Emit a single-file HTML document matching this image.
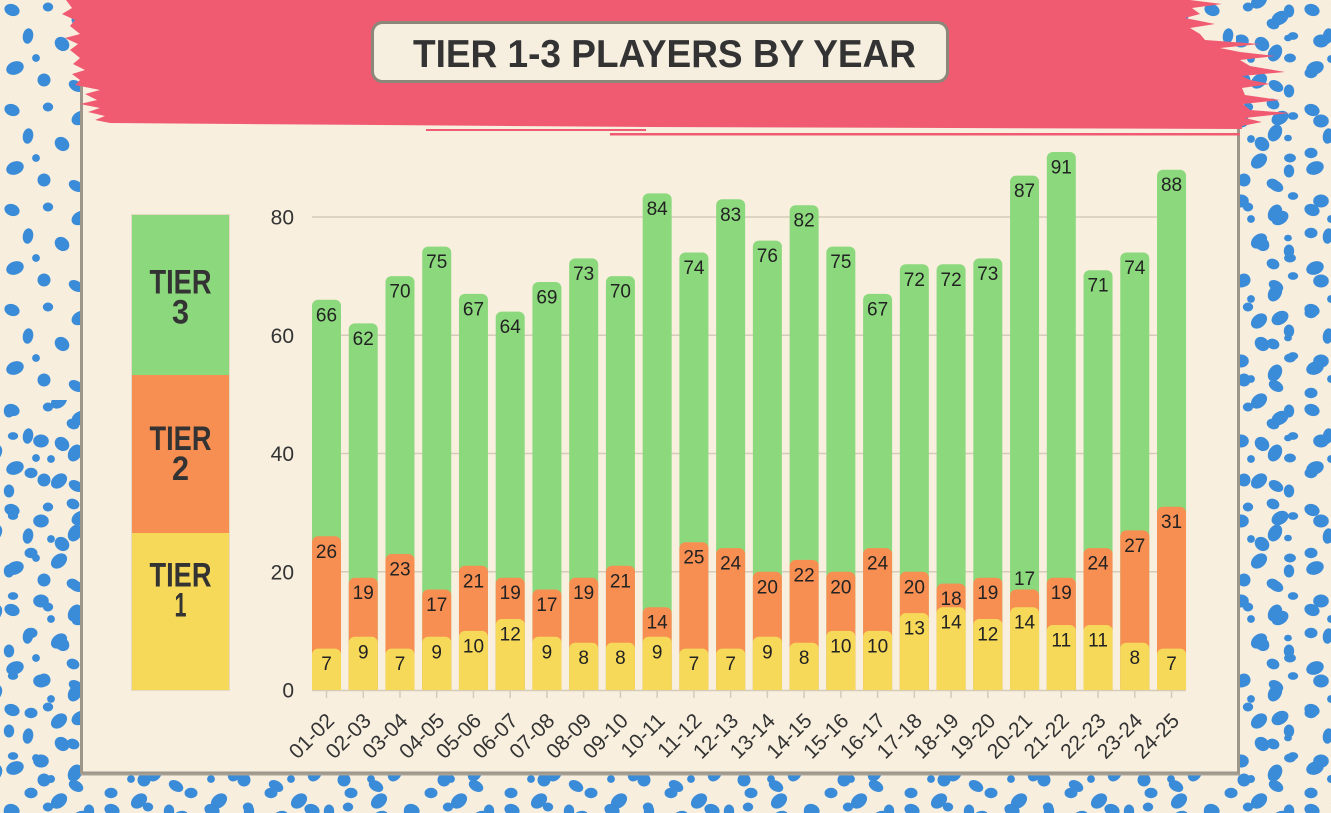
<!DOCTYPE html>
<html>
<head>
<meta charset="utf-8">
<style>
html,body{margin:0;padding:0;background:#f8eedd;}
svg{display:block;}
.lbl{font-family:"Liberation Sans",sans-serif;font-size:19px;fill:#222;text-anchor:middle;}
.yl{font-family:"Liberation Sans",sans-serif;font-size:21px;fill:#333;text-anchor:end;}
.xl{font-family:"Liberation Sans",sans-serif;font-size:21px;fill:#333;text-anchor:end;}
.lg{font-family:"Liberation Sans",sans-serif;font-weight:bold;font-size:34px;fill:#333;text-anchor:middle;}
</style>
</head>
<body>
<svg width="1331" height="813" viewBox="0 0 1331 813" xmlns="http://www.w3.org/2000/svg">
<defs>
  <pattern id="spA" width="100" height="100" patternUnits="userSpaceOnUse">
    <g fill="#3a8bd8">
      <ellipse cx="12" cy="10" rx="7.8" ry="5.9" transform="rotate(20 12 10)"/>
      <ellipse cx="48" cy="7" rx="5.2" ry="4.5"/>
      <ellipse cx="80" cy="18" rx="9" ry="6.5" transform="rotate(-30 80 18)"/>
      <ellipse cx="28" cy="36" rx="5.2" ry="7.8" transform="rotate(10 28 36)"/>
      <ellipse cx="62" cy="44" rx="7.8" ry="6.5" transform="rotate(40 62 44)"/>
      <ellipse cx="90" cy="58" rx="5.9" ry="4.5"/>
      <ellipse cx="15" cy="68" rx="9" ry="6.5" transform="rotate(-20 15 68)"/>
      <ellipse cx="44" cy="80" rx="6.5" ry="6.5"/>
      <ellipse cx="76" cy="86" rx="7.8" ry="5.2" transform="rotate(30 76 86)"/>
      <ellipse cx="36" cy="58" rx="3.9" ry="3.9"/>
      <ellipse cx="88" cy="38" rx="3.9" ry="3.3"/>
    </g>
  </pattern>
  <pattern id="spB" width="80" height="80" patternUnits="userSpaceOnUse" x="23" y="31">
    <g fill="#3a8bd8">
      <ellipse cx="18" cy="10" rx="7.8" ry="6.5"/>
      <ellipse cx="52" cy="22" rx="6.5" ry="9" transform="rotate(30 52 22)"/>
      <ellipse cx="8" cy="42" rx="6.5" ry="5.2"/>
      <ellipse cx="36" cy="50" rx="9" ry="6.5" transform="rotate(-40 36 50)"/>
      <ellipse cx="66" cy="60" rx="5.2" ry="6.5"/>
      <ellipse cx="28" cy="28" rx="3.9" ry="3.9"/>
      <ellipse cx="70" cy="5" rx="5.2" ry="3.9"/>
      <ellipse cx="50" cy="73" rx="6.5" ry="5.2" transform="rotate(20 50 73)"/>
    </g>
  </pattern>
  <clipPath id="base"><rect x="0" y="0" width="1331" height="690"/></clipPath>
</defs>

<!-- background -->
<rect x="0" y="0" width="1331" height="813" fill="#f8eedd"/>
<rect x="0" y="0" width="1331" height="813" fill="url(#spA)"/>
<rect x="0" y="400" width="90" height="413" fill="url(#spB)"/>
<rect x="0" y="765" width="1331" height="48" fill="url(#spB)"/>
<rect x="1236" y="0" width="95" height="813" fill="url(#spB)"/>

<!-- panel -->
<rect x="81.5" y="85" width="1157" height="688" fill="#f8efdf" stroke="#9d978b" stroke-width="3"/>
<line x1="81" y1="774.5" x2="1240" y2="774.5" stroke="#a7a194" stroke-width="2"/>

<!-- red brush -->
<path fill="#f05b72" d="M66,0 L1190,0 L1222,4 L1192,8 L1200,14 L1185,18 L1215,24 L1190,28 L1200,34 L1205,40 L1260,44 L1220,48 L1240,52 L1275,56 L1240,60 L1250,66 L1285,72 L1242,76 L1250,80 L1270,84 L1242,88 L1245,95 L1280,100 L1243,104 L1250,110 L1290,113 L1245,118 L1262,122 L1242,126 L1242,129 L650,127 L110,123 L95,120 L105,116 L88,112 L100,108 L80,104 L97,100 L85,94 L100,90 L75,85 L80,80 L72,74 L85,70 L73,64 L80,58 L70,50 L78,44 L65,38 L80,34 L70,26 L75,20 L62,14 L72,8 Z"/>
<rect x="426" y="129" width="220" height="2" fill="#f05b72"/>
<rect x="610" y="133" width="630" height="2.5" fill="#f05b72"/>

<!-- title box -->
<rect x="372.5" y="22.5" width="575" height="59" rx="10" ry="10" fill="#f6efdf" stroke="#8c877b" stroke-width="3"/>
<text x="664.5" y="67" font-family="Liberation Sans, sans-serif" font-weight="bold" font-size="38.5" fill="#333" text-anchor="middle" textLength="503" lengthAdjust="spacingAndGlyphs">TIER 1-3 PLAYERS BY YEAR</text>

<!-- legend -->
<rect x="132" y="215" width="97" height="160" fill="#8cd97d"/>
<rect x="132" y="375" width="97" height="158" fill="#f78f52"/>
<rect x="132" y="533" width="97" height="157" fill="#f7d95a"/>
<rect x="131.5" y="214.5" width="98" height="476" fill="none" stroke="#e4d9c2" stroke-width="1"/>
<text class="lg" x="180.5" y="293.3" textLength="62" lengthAdjust="spacingAndGlyphs">TIER</text>
<text class="lg" x="180.5" y="323.3" textLength="17" lengthAdjust="spacingAndGlyphs">3</text>
<text class="lg" x="180.5" y="450" textLength="62" lengthAdjust="spacingAndGlyphs">TIER</text>
<text class="lg" x="180.5" y="480" textLength="17" lengthAdjust="spacingAndGlyphs">2</text>
<text class="lg" x="180.5" y="586.7" textLength="62" lengthAdjust="spacingAndGlyphs">TIER</text>
<text class="lg" x="180.5" y="616.7" textLength="12" lengthAdjust="spacingAndGlyphs">1</text>

<!-- gridlines -->
<g stroke="#d4cbb9" stroke-width="1.5">
  <line x1="312" y1="217" x2="1186" y2="217"/>
  <line x1="312" y1="335.25" x2="1186" y2="335.25"/>
  <line x1="312" y1="453.5" x2="1186" y2="453.5"/>
  <line x1="312" y1="571.75" x2="1186" y2="571.75"/>
  <line x1="312" y1="690.5" x2="1186" y2="690.5"/>
</g>
<!-- ticks -->
<g stroke="#d4cbb9" stroke-width="1.5">
  <line x1="326.5" y1="690" x2="326.5" y2="698"/>
  <line x1="363.24" y1="690" x2="363.24" y2="698"/>
  <line x1="399.98" y1="690" x2="399.98" y2="698"/>
  <line x1="436.72" y1="690" x2="436.72" y2="698"/>
  <line x1="473.46" y1="690" x2="473.46" y2="698"/>
  <line x1="510.2" y1="690" x2="510.2" y2="698"/>
  <line x1="546.94" y1="690" x2="546.94" y2="698"/>
  <line x1="583.68" y1="690" x2="583.68" y2="698"/>
  <line x1="620.42" y1="690" x2="620.42" y2="698"/>
  <line x1="657.16" y1="690" x2="657.16" y2="698"/>
  <line x1="693.9" y1="690" x2="693.9" y2="698"/>
  <line x1="730.64" y1="690" x2="730.64" y2="698"/>
  <line x1="767.38" y1="690" x2="767.38" y2="698"/>
  <line x1="804.12" y1="690" x2="804.12" y2="698"/>
  <line x1="840.86" y1="690" x2="840.86" y2="698"/>
  <line x1="877.6" y1="690" x2="877.6" y2="698"/>
  <line x1="914.34" y1="690" x2="914.34" y2="698"/>
  <line x1="951.08" y1="690" x2="951.08" y2="698"/>
  <line x1="987.82" y1="690" x2="987.82" y2="698"/>
  <line x1="1024.56" y1="690" x2="1024.56" y2="698"/>
  <line x1="1061.3" y1="690" x2="1061.3" y2="698"/>
  <line x1="1098.04" y1="690" x2="1098.04" y2="698"/>
  <line x1="1134.78" y1="690" x2="1134.78" y2="698"/>
  <line x1="1171.52" y1="690" x2="1171.52" y2="698"/>
</g>

<!-- y labels -->
<text class="yl" x="294" y="224.5">80</text>
<text class="yl" x="294" y="342.75">60</text>
<text class="yl" x="294" y="461">40</text>
<text class="yl" x="294" y="579.25">20</text>
<text class="yl" x="294" y="697.5">0</text>

<!-- bars -->
<g clip-path="url(#base)">
  <g fill="#8cd97d">
    <rect x="312" y="299.8" width="29" height="420" rx="6"/>
    <rect x="348.74" y="323.4" width="29" height="420" rx="6"/>
    <rect x="385.48" y="276.1" width="29" height="440" rx="6"/>
    <rect x="422.22" y="246.6" width="29" height="470" rx="6"/>
    <rect x="458.96" y="293.9" width="29" height="420" rx="6"/>
    <rect x="495.70" y="311.6" width="29" height="420" rx="6"/>
    <rect x="532.44" y="282.0" width="29" height="440" rx="6"/>
    <rect x="569.18" y="258.4" width="29" height="460" rx="6"/>
    <rect x="605.92" y="276.1" width="29" height="440" rx="6"/>
    <rect x="642.66" y="193.35" width="29" height="520" rx="6"/>
    <rect x="679.40" y="252.5" width="29" height="460" rx="6"/>
    <rect x="716.14" y="199.3" width="29" height="520" rx="6"/>
    <rect x="752.88" y="240.65" width="29" height="470" rx="6"/>
    <rect x="789.62" y="205.2" width="29" height="520" rx="6"/>
    <rect x="826.36" y="246.6" width="29" height="470" rx="6"/>
    <rect x="863.10" y="293.9" width="29" height="420" rx="6"/>
    <rect x="899.84" y="264.3" width="29" height="460" rx="6"/>
    <rect x="936.58" y="264.3" width="29" height="460" rx="6"/>
    <rect x="973.32" y="258.4" width="29" height="460" rx="6"/>
    <rect x="1010.06" y="175.6" width="29" height="540" rx="6"/>
    <rect x="1046.80" y="152.0" width="29" height="560" rx="6"/>
    <rect x="1083.54" y="270.2" width="29" height="440" rx="6"/>
    <rect x="1120.28" y="252.5" width="29" height="460" rx="6"/>
    <rect x="1157.02" y="169.7" width="29" height="540" rx="6"/>
  </g>
  <g fill="#f78f52">
    <rect x="312" y="536.3" width="29" height="180" rx="6"/>
    <rect x="348.74" y="577.7" width="29" height="140" rx="6"/>
    <rect x="385.48" y="554.0" width="29" height="160" rx="6"/>
    <rect x="422.22" y="589.5" width="29" height="120" rx="6"/>
    <rect x="458.96" y="565.8" width="29" height="140" rx="6"/>
    <rect x="495.70" y="577.7" width="29" height="140" rx="6"/>
    <rect x="532.44" y="589.5" width="29" height="120" rx="6"/>
    <rect x="569.18" y="577.7" width="29" height="140" rx="6"/>
    <rect x="605.92" y="565.8" width="29" height="140" rx="6"/>
    <rect x="642.66" y="607.2" width="29" height="100" rx="6"/>
    <rect x="679.40" y="542.2" width="29" height="160" rx="6"/>
    <rect x="716.14" y="548.1" width="29" height="160" rx="6"/>
    <rect x="752.88" y="571.75" width="29" height="140" rx="6"/>
    <rect x="789.62" y="559.9" width="29" height="160" rx="6"/>
    <rect x="826.36" y="571.75" width="29" height="140" rx="6"/>
    <rect x="863.10" y="548.1" width="29" height="160" rx="6"/>
    <rect x="899.84" y="571.75" width="29" height="140" rx="6"/>
    <rect x="936.58" y="583.6" width="29" height="120" rx="6"/>
    <rect x="973.32" y="577.7" width="29" height="140" rx="6"/>
    <rect x="1010.06" y="589.5" width="29" height="120" rx="6"/>
    <rect x="1046.80" y="577.7" width="29" height="140" rx="6"/>
    <rect x="1083.54" y="548.1" width="29" height="160" rx="6"/>
    <rect x="1120.28" y="530.4" width="29" height="180" rx="6"/>
    <rect x="1157.02" y="506.7" width="29" height="200" rx="6"/>
  </g>
  <g fill="#f7d95a">
    <rect x="312" y="648.6" width="29" height="60" rx="6"/>
    <rect x="348.74" y="636.8" width="29" height="70" rx="6"/>
    <rect x="385.48" y="648.6" width="29" height="60" rx="6"/>
    <rect x="422.22" y="636.8" width="29" height="70" rx="6"/>
    <rect x="458.96" y="630.9" width="29" height="80" rx="6"/>
    <rect x="495.70" y="619.05" width="29" height="90" rx="6"/>
    <rect x="532.44" y="636.8" width="29" height="70" rx="6"/>
    <rect x="569.18" y="642.7" width="29" height="70" rx="6"/>
    <rect x="605.92" y="642.7" width="29" height="70" rx="6"/>
    <rect x="642.66" y="636.8" width="29" height="70" rx="6"/>
    <rect x="679.40" y="648.6" width="29" height="60" rx="6"/>
    <rect x="716.14" y="648.6" width="29" height="60" rx="6"/>
    <rect x="752.88" y="636.8" width="29" height="70" rx="6"/>
    <rect x="789.62" y="642.7" width="29" height="70" rx="6"/>
    <rect x="826.36" y="630.9" width="29" height="80" rx="6"/>
    <rect x="863.10" y="630.9" width="29" height="80" rx="6"/>
    <rect x="899.84" y="613.1" width="29" height="90" rx="6"/>
    <rect x="936.58" y="607.2" width="29" height="100" rx="6"/>
    <rect x="973.32" y="619.05" width="29" height="90" rx="6"/>
    <rect x="1010.06" y="607.2" width="29" height="100" rx="6"/>
    <rect x="1046.80" y="625.0" width="29" height="80" rx="6"/>
    <rect x="1083.54" y="625.0" width="29" height="80" rx="6"/>
    <rect x="1120.28" y="642.7" width="29" height="70" rx="6"/>
    <rect x="1157.02" y="648.6" width="29" height="60" rx="6"/>
  </g>
</g>

<!-- bar labels: green -->
<text class="lbl" x="326.5" y="321.3">66</text>
<text class="lbl" x="363.24" y="344.9">62</text>
<text class="lbl" x="399.98" y="297.6">70</text>
<text class="lbl" x="436.72" y="268.1">75</text>
<text class="lbl" x="473.46" y="315.4">67</text>
<text class="lbl" x="510.2" y="333.1">64</text>
<text class="lbl" x="546.94" y="303.5">69</text>
<text class="lbl" x="583.68" y="279.9">73</text>
<text class="lbl" x="620.42" y="297.6">70</text>
<text class="lbl" x="657.16" y="214.85">84</text>
<text class="lbl" x="693.9" y="274">74</text>
<text class="lbl" x="730.64" y="220.8">83</text>
<text class="lbl" x="767.38" y="262.15">76</text>
<text class="lbl" x="804.12" y="226.7">82</text>
<text class="lbl" x="840.86" y="268.1">75</text>
<text class="lbl" x="877.6" y="315.4">67</text>
<text class="lbl" x="914.34" y="285.8">72</text>
<text class="lbl" x="951.08" y="285.8">72</text>
<text class="lbl" x="987.82" y="279.9">73</text>
<text class="lbl" x="1024.56" y="197.1">87</text>
<text class="lbl" x="1061.3" y="173.5">91</text>
<text class="lbl" x="1098.04" y="291.7">71</text>
<text class="lbl" x="1134.78" y="274">74</text>
<text class="lbl" x="1171.52" y="191.2">88</text>

<!-- bar labels: orange -->
<text class="lbl" x="326.5" y="557.8">26</text>
<text class="lbl" x="363.24" y="599.2">19</text>
<text class="lbl" x="399.98" y="575.5">23</text>
<text class="lbl" x="436.72" y="611">17</text>
<text class="lbl" x="473.46" y="587.3">21</text>
<text class="lbl" x="510.2" y="599.2">19</text>
<text class="lbl" x="546.94" y="611">17</text>
<text class="lbl" x="583.68" y="599.2">19</text>
<text class="lbl" x="620.42" y="587.3">21</text>
<text class="lbl" x="657.16" y="628.7">14</text>
<text class="lbl" x="693.9" y="563.7">25</text>
<text class="lbl" x="730.64" y="569.6">24</text>
<text class="lbl" x="767.38" y="593.25">20</text>
<text class="lbl" x="804.12" y="581.4">22</text>
<text class="lbl" x="840.86" y="593.25">20</text>
<text class="lbl" x="877.6" y="569.6">24</text>
<text class="lbl" x="914.34" y="593.25">20</text>
<text class="lbl" x="951.08" y="605.1">18</text>
<text class="lbl" x="987.82" y="599.2">19</text>
<text class="lbl" x="1024.56" y="585">17</text>
<text class="lbl" x="1061.3" y="599.2">19</text>
<text class="lbl" x="1098.04" y="569.6">24</text>
<text class="lbl" x="1134.78" y="551.9">27</text>
<text class="lbl" x="1171.52" y="528.2">31</text>

<!-- bar labels: yellow -->
<text class="lbl" x="326.5" y="670.1">7</text>
<text class="lbl" x="363.24" y="658.3">9</text>
<text class="lbl" x="399.98" y="670.1">7</text>
<text class="lbl" x="436.72" y="658.3">9</text>
<text class="lbl" x="473.46" y="652.4">10</text>
<text class="lbl" x="510.2" y="640.55">12</text>
<text class="lbl" x="546.94" y="658.3">9</text>
<text class="lbl" x="583.68" y="664.2">8</text>
<text class="lbl" x="620.42" y="664.2">8</text>
<text class="lbl" x="657.16" y="658.3">9</text>
<text class="lbl" x="693.9" y="670.1">7</text>
<text class="lbl" x="730.64" y="670.1">7</text>
<text class="lbl" x="767.38" y="658.3">9</text>
<text class="lbl" x="804.12" y="664.2">8</text>
<text class="lbl" x="840.86" y="652.4">10</text>
<text class="lbl" x="877.6" y="652.4">10</text>
<text class="lbl" x="914.34" y="634.6">13</text>
<text class="lbl" x="951.08" y="628.7">14</text>
<text class="lbl" x="987.82" y="640.55">12</text>
<text class="lbl" x="1024.56" y="628.7">14</text>
<text class="lbl" x="1061.3" y="646.5">11</text>
<text class="lbl" x="1098.04" y="646.5">11</text>
<text class="lbl" x="1134.78" y="664.2">8</text>
<text class="lbl" x="1171.52" y="670.1">7</text>

<!-- x labels -->
<text class="xl" x="335.5" y="722" transform="rotate(-45 335.5 722)">01-02</text>
<text class="xl" x="372.24" y="722" transform="rotate(-45 372.24 722)">02-03</text>
<text class="xl" x="408.98" y="722" transform="rotate(-45 408.98 722)">03-04</text>
<text class="xl" x="445.72" y="722" transform="rotate(-45 445.72 722)">04-05</text>
<text class="xl" x="482.46" y="722" transform="rotate(-45 482.46 722)">05-06</text>
<text class="xl" x="519.2" y="722" transform="rotate(-45 519.2 722)">06-07</text>
<text class="xl" x="555.94" y="722" transform="rotate(-45 555.94 722)">07-08</text>
<text class="xl" x="592.68" y="722" transform="rotate(-45 592.68 722)">08-09</text>
<text class="xl" x="629.42" y="722" transform="rotate(-45 629.42 722)">09-10</text>
<text class="xl" x="666.16" y="722" transform="rotate(-45 666.16 722)">10-11</text>
<text class="xl" x="702.9" y="722" transform="rotate(-45 702.9 722)">11-12</text>
<text class="xl" x="739.64" y="722" transform="rotate(-45 739.64 722)">12-13</text>
<text class="xl" x="776.38" y="722" transform="rotate(-45 776.38 722)">13-14</text>
<text class="xl" x="813.12" y="722" transform="rotate(-45 813.12 722)">14-15</text>
<text class="xl" x="849.86" y="722" transform="rotate(-45 849.86 722)">15-16</text>
<text class="xl" x="886.6" y="722" transform="rotate(-45 886.6 722)">16-17</text>
<text class="xl" x="923.34" y="722" transform="rotate(-45 923.34 722)">17-18</text>
<text class="xl" x="960.08" y="722" transform="rotate(-45 960.08 722)">18-19</text>
<text class="xl" x="996.82" y="722" transform="rotate(-45 996.82 722)">19-20</text>
<text class="xl" x="1033.56" y="722" transform="rotate(-45 1033.56 722)">20-21</text>
<text class="xl" x="1070.3" y="722" transform="rotate(-45 1070.3 722)">21-22</text>
<text class="xl" x="1107.04" y="722" transform="rotate(-45 1107.04 722)">22-23</text>
<text class="xl" x="1143.78" y="722" transform="rotate(-45 1143.78 722)">23-24</text>
<text class="xl" x="1180.52" y="722" transform="rotate(-45 1180.52 722)">24-25</text>
</svg>
</body>
</html>
